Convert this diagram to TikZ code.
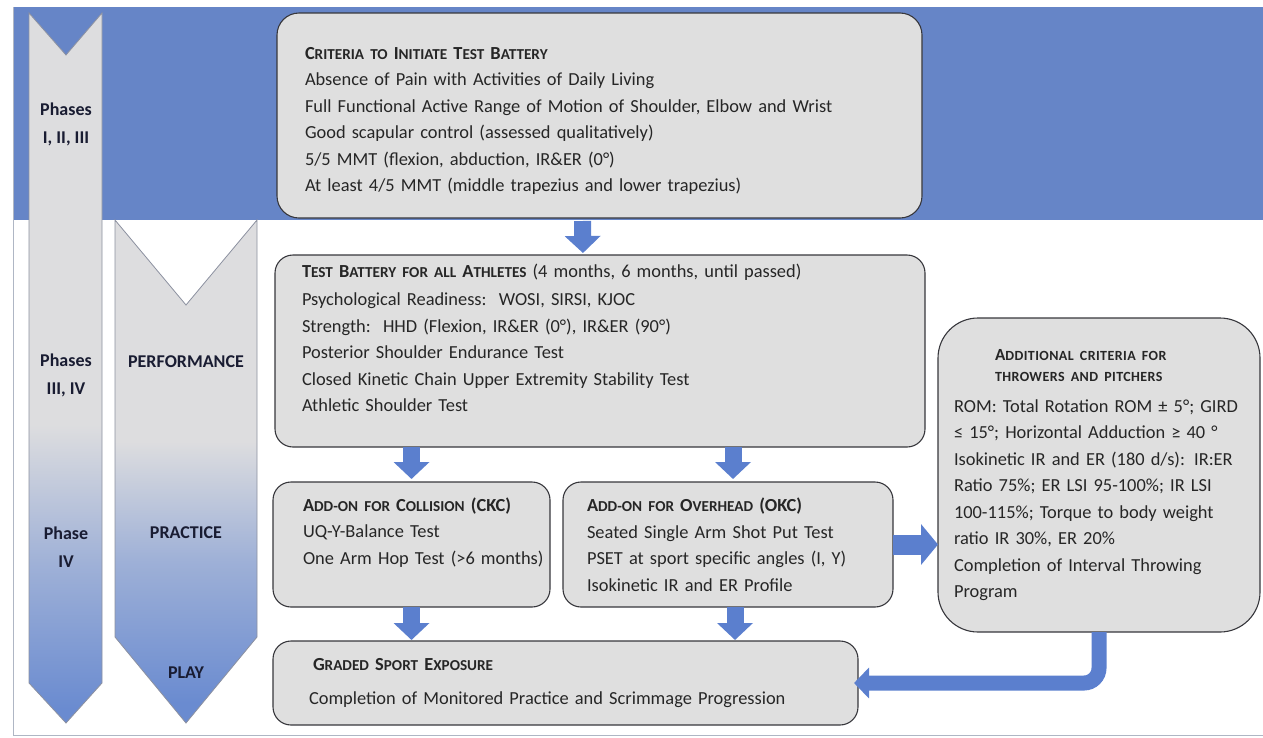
\documentclass[tikz,border=0pt]{standalone}
\usepackage{fontspec}
\setmainfont{Carlito}
\usetikzlibrary{arrows.meta}

\definecolor{bandblue}{RGB}{102,133,199}
\definecolor{boxgray}{RGB}{223,223,223}
\definecolor{boxline}{RGB}{55,55,60}
\definecolor{arrowblue}{RGB}{91,127,206}
\definecolor{chevgray}{RGB}{221,221,223}
\definecolor{chevblue}{RGB}{106,139,208}
\definecolor{chevedge}{RGB}{140,145,160}
\definecolor{framegray}{RGB}{175,182,196}
\definecolor{textdark}{RGB}{38,38,38}
\definecolor{chevtext}{RGB}{25,28,50}

\pgfdeclareverticalshading{phasefade}{100bp}{color(0bp)=(chevblue); color(26bp)=(chevblue); color(36bp)=(chevblue!55!chevgray); color(46bp)=(chevgray); color(100bp)=(chevgray)}
\pgfdeclareverticalshading{stagefade}{100bp}{color(0bp)=(chevblue); color(27bp)=(chevblue); color(41bp)=(chevblue!55!chevgray); color(53bp)=(chevgray); color(100bp)=(chevgray)}

\newcommand{\bodyfont}{\fontsize{18.4}{26.5}\selectfont}
\newcommand{\smc}[1]{{\fontsize{15.2}{15.2}\selectfont\MakeUppercase{#1}}}
\newcommand{\tinysmc}[1]{{\fontsize{14}{14}\selectfont\addfontfeature{LetterSpace=3}\MakeUppercase{#1}}}

\tikzset{
  stepbox/.style={draw=boxline, line width=1.1pt, fill=boxgray, rounded corners=18pt,
    anchor=north west, inner ysep=0pt, outer sep=0pt, align=left, font=\bodyfont, text=textdark},
  phaselabel/.style={align=center, font=\fontsize{18}{28}\selectfont\bfseries, text=chevtext},
  flow/.style={arrowblue, line width=17pt, -{Triangle[width=35pt,length=17pt]}},
}

\begin{document}
\begin{tikzpicture}[x=1pt,y=-1pt]
\useasboundingbox (0,0) rectangle (1263,737);
% band and frame
\fill [bandblue] (13,7) rectangle (1263,220);
\draw [framegray, line width=1pt] (13,7) -- (13,735) -- (1263,735);
% phase chevrons
\shadedraw [shading=phasefade, draw=chevedge, line width=0.8pt] (29,13) -- (66,55) -- (102,13) -- (102,683) -- (66,723) -- (29,683) -- cycle;
\shadedraw [shading=stagefade, draw=chevedge, line width=0.8pt] (115,220) -- (186,305) -- (257,220) -- (257,637) -- (186,723) -- (115,637) -- cycle;
\path (66,124) node (ph1) [phaselabel] {Phases\\I, II, III};
\path (66,375) node (ph2) [phaselabel] {Phases\\III, IV};
\path (66,547) node (ph3) [phaselabel] {Phase\\IV};
\path (186,362) node (perf) [phaselabel] {PERFORMANCE};
\path (186,533) node (prac) [phaselabel] {PRACTICE};
\path (186,673) node (play) [phaselabel] {PLAY};

\path (277,13) node (crit) [stepbox, rounded corners=22pt, minimum width=645pt, minimum height=205pt, text width=589pt, inner xsep=28pt]
  {\rule{0pt}{23pt}\textbf{C\smc{riteria to} I\smc{nitiate} T\smc{est} B\smc{attery}}\\
   Absence of Pain with Activities of Daily Living\\
   Full Functional Active Range of Motion of Shoulder, Elbow and Wrist\\
   Good scapular control (assessed qualitatively)\\
   5/5 MMT (flexion, abduction, IR\&ER (0°)\\
   At least 4/5 MMT (middle trapezius and lower trapezius)};
\path (275,255) node (batt) [stepbox, minimum width=650pt, minimum height=192pt, text width=596pt, inner xsep=27pt]
  {\rule{0pt}{22pt}\textbf{T\smc{est} B\smc{attery for all} A\smc{thletes}} (4 months, 6 months, until passed)\\[1.5pt]
   Psychological Readiness:\ \ WOSI, SIRSI, KJOC\\
   Strength:\ \ HHD (Flexion, IR\&ER (0°), IR\&ER (90°)\\
   Posterior Shoulder Endurance Test\\
   Closed Kinetic Chain Upper Extremity Stability Test\\
   Athletic Shoulder Test\\ \strut};
\path (273,482) node (coll) [stepbox, minimum width=277pt, minimum height=125pt, text width=217pt, inner xsep=30pt]
  {\rule{0pt}{21pt}\textbf{A\smc{dd-on for} C\smc{ollision} (CKC)}\\
   UQ-Y-Balance Test\\
   \mbox{One Arm Hop Test (>6 months)}\\ \strut};
\path (563,482) node (over) [stepbox, minimum width=330pt, minimum height=125pt, text width=282pt, inner xsep=24pt]
  {\textbf{A\smc{dd-on for} O\smc{verhead} (OKC)}\\
   Seated Single Arm Shot Put Test\\
   PSET at sport specific angles (I, Y)\\
   Isokinetic IR and ER Profile};
\path (273,641) node (grad) [stepbox, minimum width=585pt, minimum height=84pt, text width=513pt, inner xsep=36pt]
  {\hspace*{4pt}\textbf{G\smc{raded} S\smc{port} E\smc{xposure}}\\[8pt]
   Completion of Monitored Practice and Scrimmage Progression};
\path (938,318) node (thr) [stepbox, rounded corners=40pt, minimum width=322pt, minimum height=314pt, text width=290pt, inner xsep=16pt]
  {\hspace*{41pt}\textbf{\fontsize{17}{21}\selectfont A\tinysmc{dditional criteria for}}\\[-5pt]
   \hspace*{41pt}\textbf{\tinysmc{throwers and pitchers}}\\[4pt]
   ROM: Total Rotation ROM ± 5°; GIRD\\
   ≤ 15°; Horizontal Adduction ≥ 40 °\\
   Isokinetic IR and ER (180 d/s): IR:ER\\
   Ratio 75\%; ER LSI 95-100\%; IR LSI\\
   100-115\%; Torque to body weight\\
   ratio IR 30\%, ER 20\%\\
   Completion of Interval Throwing\\
   Program};

\draw [flow, shorten <=3pt, shorten >=2pt] ([xshift=-17pt]crit.south) to ([xshift=-17pt]batt.north);
\draw [flow, shorten >=3pt] (batt.south -| coll.north) to (coll.north);
\draw [flow, shorten >=3pt] ([xshift=5pt]over.north |- batt.south) to ([xshift=5pt]over.north);
\draw [flow, shorten >=1pt] (coll.south) to (coll.south |- grad.north);
\draw [flow, shorten >=1pt] ([xshift=7pt]over.south) to ([xshift=7pt]over.south |- grad.north);
\draw [flow, line width=20pt, -{Triangle[width=40pt,length=17pt]}] (over.east) to (thr.west |- over.east);
\draw [flow, line width=15pt, rounded corners=15pt, -{Triangle[width=30pt,length=15pt]}, shorten >=-4pt] (thr.south) |- (grad.east);
\end{tikzpicture}
\end{document}
